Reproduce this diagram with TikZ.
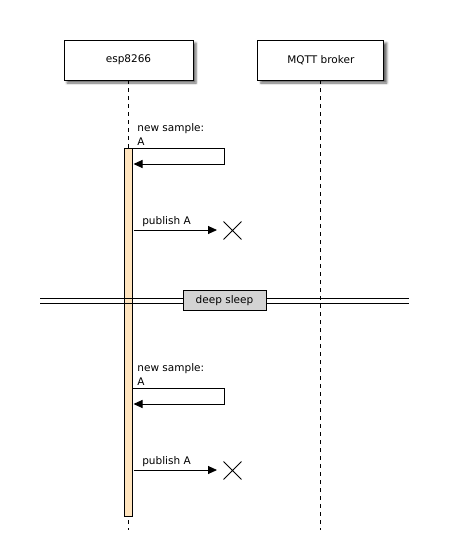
\documentclass[tikz,border=0pt]{standalone}
\usepackage{fontspec}
\setmainfont{DejaVu Sans}
\usetikzlibrary{arrows.meta,shadows.blur,shapes.misc,positioning}
\definecolor{barpeach}{RGB}{255,228,190}
\definecolor{sleepgray}{RGB}{211,211,211}
\begin{document}
\begin{tikzpicture}[
            x=1pt, y=-1pt,
            line width=0.9pt,
            font=\fontsize{10.5}{14}\selectfont,
            participant/.style={draw, fill=white, minimum height=40pt,
                blur shadow={shadow xshift=3pt, shadow yshift=-3pt, shadow blur steps=4, shadow opacity=60}},
            lifeline/.style={dash pattern=on 4pt off 4pt},
            activation/.style={draw, fill=barpeach, minimum width=8pt, inner sep=0pt},
            msg/.style={-{Triangle[length=9pt,width=8pt]}},
            msglabel/.style={inner sep=0pt, align=left},
            lost/.style={draw, cross out, minimum size=17pt, inner sep=0pt},
            sleepbox/.style={draw, fill=sleepgray, minimum width=83pt, minimum height=20pt, inner sep=0pt}
        ]
        \useasboundingbox (0,0) rectangle (448,544);
        % participants
        \node[participant, minimum width=129pt] (esp) at (128.5,60) {esp8266};
        \node[participant, minimum width=126pt, right=64pt of esp] (broker) {MQTT broker};
        \coordinate (espend) at (128.5,530);
        \coordinate (brokerend) at (broker.south |- espend);
        \draw[lifeline] (esp.south) -- (espend);
        \draw[lifeline] (broker.south) -- (brokerend);
        % activation bar
        \node[activation, minimum height=368pt, anchor=north] (act) at (128.5,148) {};
        % the two sample / publish rounds
        \foreach \t [count=\i] in {148,388} {
            \coordinate (out\i) at (132.5,\t);
            \coordinate (turn\i) at (224,\t);
            \coordinate (back\i) at (224,\t+16);
            \coordinate (in\i) at (133.5,\t+16);
            \draw[msg] (out\i) -- (turn\i) -- (back\i) -- (in\i);
            \node[msglabel, anchor=south west] (sample\i) at (137,\t-2) {new sample:\\A};
            \node[lost] (x\i) at (232.5,\t+82.5) {};
            \coordinate (pub\i) at (133.5,\t+82);
            \coordinate (pubend\i) at (217,\t+82);
            \draw[msg] (pub\i) -- node[msglabel, above=3pt, pos=0.1, anchor=south west] {publish A} (pubend\i);
        }
        % deep sleep divider
        \coordinate (sleepL) at (40,298);
        \coordinate (sleepR) at (409,298);
        \draw (sleepL) -- (sleepR);
        \draw ([yshift=-5pt]sleepL) -- ([yshift=-5pt]sleepR);
        \node[sleepbox] (sleep) at (224.5,300.5) {deep sleep};
    \end{tikzpicture}
\end{document}
